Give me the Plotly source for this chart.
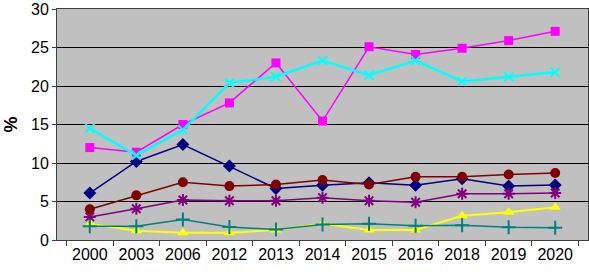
import plotly.graph_objects as go

years = ["2000", "2003", "2006", "2012", "2013", "2014", "2015", "2016", "2018", "2019", "2020"]
navy_vals = [6.1, 10.2, 12.4, 9.6, 6.7, 7.1, 7.45, 7.1, 7.95, 7.0, 7.15]
magenta_vals = [12.0, 11.4, 15.0, 17.8, 23.0, 15.45, 25.1, 24.1, 24.9, 25.9, 27.1]
yellow_vals = [2.1, 1.2, 0.95, 0.95, 1.3, 2.1, 1.3, 1.3, 3.15, 3.6, 4.25]
cyan_vals = [14.5, 11.0, 14.3, 20.4, 21.2, 23.3, 21.4, 23.3, 20.6, 21.2, 21.8]
purple_vals = [3.0, 4.05, 5.2, 5.1, 5.1, 5.5, 5.1, 4.9, 6.0, 6.0, 6.1]
brown_vals = [4.0, 5.8, 7.5, 7.0, 7.2, 7.8, 7.2, 8.2, 8.2, 8.5, 8.7]
teal_vals = [1.8, 1.8, 2.65, 1.7, 1.35, 2.0, 2.1, 1.85, 1.9, 1.65, 1.6]
y_ticks = [0, 5, 10, 15, 20, 25, 30]

series = [
    (navy_vals, "#000080", "diamond", 10, 1.5),
    (magenta_vals, "#FF00FF", "square", 9, 1.5),
    (yellow_vals, "#FFFF00", "triangle-up", 10, 2),
    (cyan_vals, "#00FFFF", "x-thin", 9, 2.5),
    (purple_vals, "#800080", "asterisk", 10, 1.5),
    (brown_vals, "#800000", "circle", 10, 1.5),
    (teal_vals, "#008080", "cross-thin", 10, 1.5),
]

fig = go.Figure()
for vals, col, sym, size, lw in series:
    thin = sym in ("x-thin", "asterisk", "cross-thin")
    fig.add_trace(go.Scatter(
        x=years, y=vals, mode="lines+markers",
        line=dict(color=col, width=lw),
        marker=dict(symbol=sym, size=size, color=col,
                    line=dict(color=col, width=2 if thin else 0)),
        showlegend=False,
        cliponaxis=False,
    ))

fig.update_layout(
    width=589, height=272,
    margin=dict(l=57, r=1, t=9, b=32),
    paper_bgcolor="white",
    plot_bgcolor="#C0C0C0",
    font=dict(family="Liberation Sans, Arial", size=16, color="black"),
    xaxis=dict(
        type="category", tickson="boundaries", ticks="outside", ticklen=5,
        tickcolor="#404040", showgrid=False, showline=True, linecolor="#404040",
        linewidth=1, mirror=True, tickfont=dict(size=16), tickangle=0,
        automargin=False,
    ),
    yaxis=dict(
        range=[0, 30], tickvals=y_ticks, ticks="outside", ticklen=4,
        tickcolor="#404040", showgrid=True, gridcolor="#000000", gridwidth=1,
        showline=True, linecolor="#404040", linewidth=1, mirror=True,
        zeroline=False, tickfont=dict(size=16), automargin=False,
        ticklabeloverflow="allow",
    ),
    annotations=[dict(
        text="<b>%</b>", xref="paper", yref="paper", x=(10 - 57) / 531, y=0.5,
        xanchor="center", yanchor="middle", textangle=-90, showarrow=False,
        font=dict(size=18),
    )],
)

fig.write_html("out.html", post_script="document.body.style.margin='0';",
               config={"displayModeBar": False})
